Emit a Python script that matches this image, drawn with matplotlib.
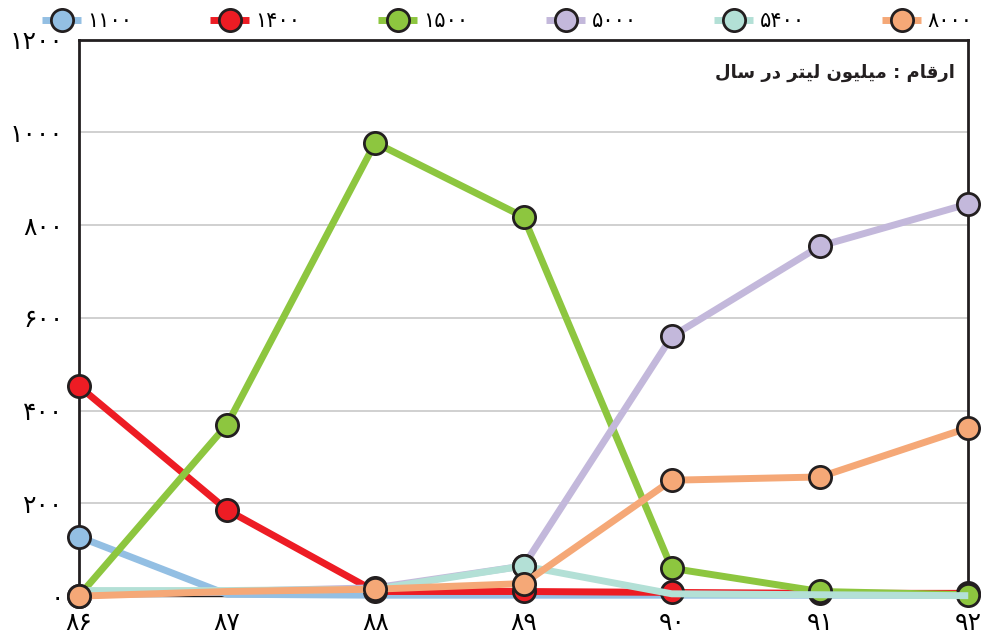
import matplotlib
matplotlib.use('Agg')
import matplotlib.pyplot as plt

# سال‌ها (محور افقی) و برچسب‌ها به ارقام فارسی
years = [86, 87, 88, 89, 90, 91, 92]
year_labels = ['۸۶', '۸۷', '۸۸', '۸۹', '۹۰', '۹۱', '۹۲']
y_ticks = [0, 200, 400, 600, 800, 1000, 1200]
y_labels = ['۰', '۲۰۰', '۴۰۰', '۶۰۰', '۸۰۰', '۱۰۰۰', '۱۲۰۰']

series_names = ['۱۱۰۰', '۱۴۰۰', '۱۵۰۰', '۵۰۰۰', '۵۴۰۰', '۸۰۰۰']
s1100 = [128, 4, 2, 2, 2, 2, 2]
s1400 = [453, 186, 10, 10, 8, 6, 6]
s1500 = [0, 370, 978, 818, 60, 10, 3]
s5000 = [2, 10, 18, 65, 560, 755, 846]
s5400 = [12, 12, 15, 65, 5, 3, 1]
s8000 = [0, 10, 15, 27, 250, 257, 363]

colors = ['#93BFE3', '#ED1C24', '#8DC63F', '#C3B8DB', '#B3E0D6', '#F5A877']
# نقاطی که نشانگر دارند
marks = [[0], [0, 1, 2, 3, 4, 5, 6], [0, 1, 2, 3, 4, 5, 6],
         [2, 3, 4, 5, 6], [3], [0, 2, 3, 4, 5, 6]]

# "ارقام : میلیون لیتر در سال" در ترتیب نمایشی با حروف شکل‌دار
note = ('\uFEDD\uFE8E\uFEB3 \uFEAD\uFEA9 \uFEAE\uFE98\uFEF4\uFEDF '
        '\uFEE5\uFEEE\uFEF4\uFEE0\uFEF4\uFEE3 : \uFEE1\uFE8E\uFED7\uFEAD\uFE8D')

plt.rcParams['font.family'] = ['DejaVu Sans']

fig = plt.figure(figsize=(9.85, 6.41), dpi=100)
ax = fig.add_axes([0.080, 0.070, 0.903, 0.868])

all_series = [s1100, s1400, s1500, s5000, s5400, s8000]
for name, vals, col, mk in zip(series_names, all_series, colors, marks):
    ax.plot(years, vals, color=col, lw=5, marker='o', markevery=mk,
            markersize=16, markerfacecolor=col, markeredgecolor='#231F20',
            markeredgewidth=2, label=name, clip_on=False, zorder=3,
            solid_capstyle='butt')

ax.set_xlim(86, 92)
ax.set_ylim(0, 1200)
ax.set_xticks(years)
ax.set_xticklabels(year_labels, fontsize=18)
ax.set_yticks(y_ticks)
ax.set_yticklabels(y_labels, fontsize=18)
ax.tick_params(length=0)
ax.tick_params(axis='y', pad=11)
ax.tick_params(axis='x', pad=11)
ax.yaxis.grid(True, color='#C8C8C8', lw=1.2)
ax.set_axisbelow(True)
for s in ['left', 'top', 'right']:
    ax.spines[s].set_color('#231F20')
    ax.spines[s].set_linewidth(2)
ax.spines['bottom'].set_color('#231F20')
ax.spines['bottom'].set_linewidth(1)

ax.text(0.985, 0.94, note, transform=ax.transAxes, ha='right', va='center',
        fontsize=13, fontweight='bold', color='#231F20')

fig.legend(loc='upper center', bbox_to_anchor=(0.515, 1.012), ncol=6,
           frameon=False, fontsize=15, handlelength=1.9, columnspacing=3.7,
           handletextpad=0.3)

fig.savefig('out.png', dpi=100)
